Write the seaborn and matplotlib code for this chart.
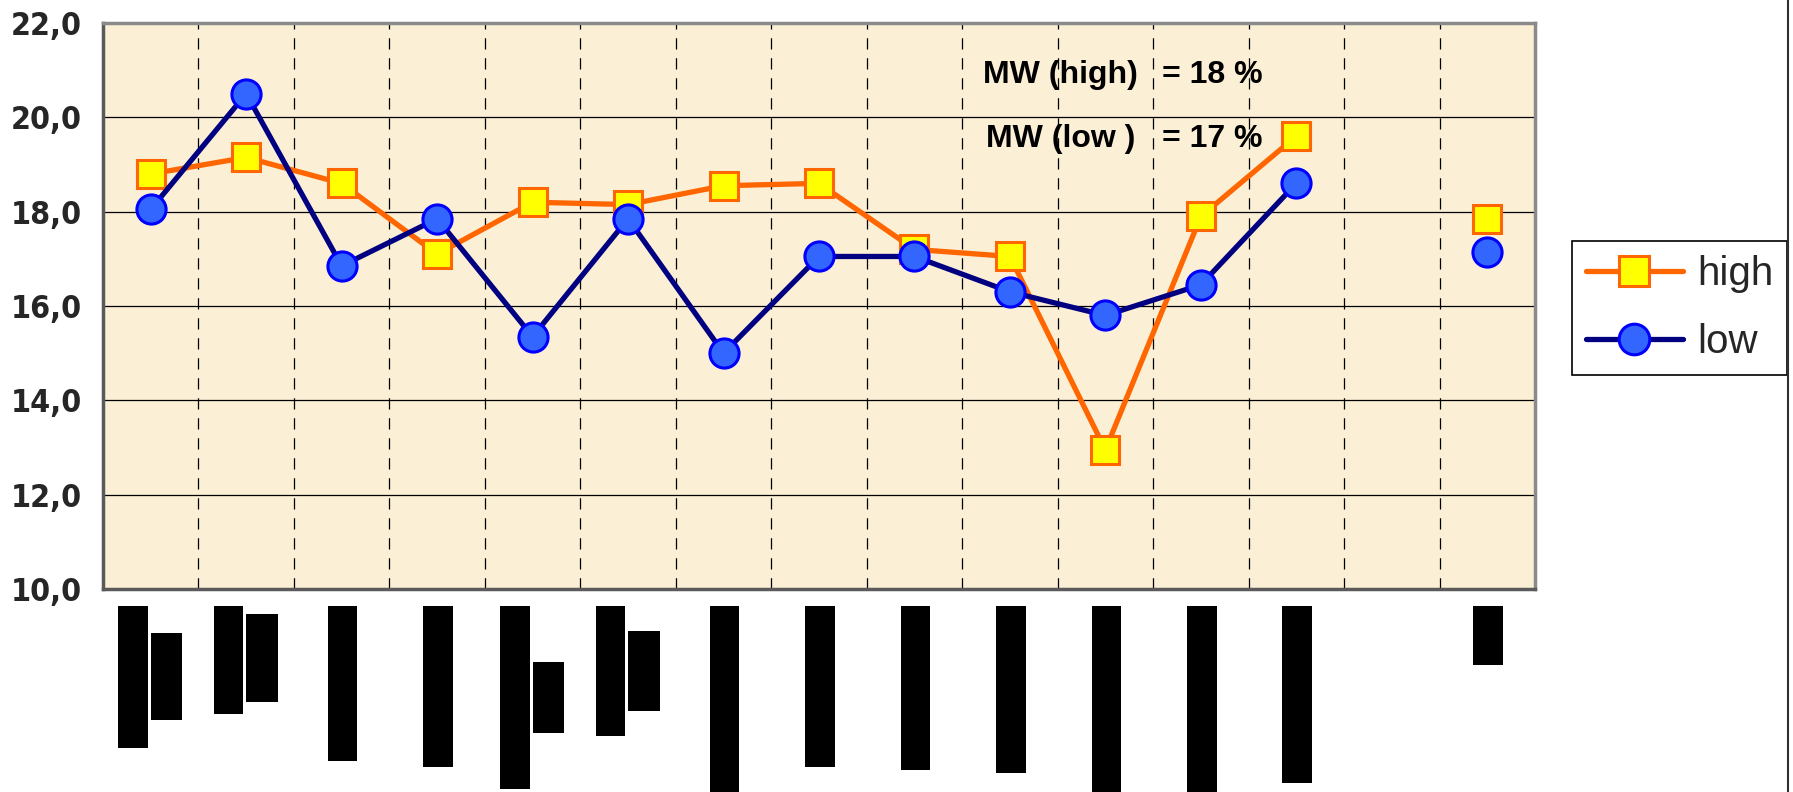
import numpy as np
import pandas as pd
import matplotlib
matplotlib.use("Agg")
import matplotlib.pyplot as plt
import matplotlib.transforms as mtransforms
from matplotlib import font_manager as fm
from matplotlib.patches import Rectangle
from matplotlib.lines import Line2D
import seaborn as sns

# ---- data -------------------------------------------------------------
positions = list(range(15))          # 15 categories, the 14th has no value
high = [18.8, 19.15, 18.6, 17.1, 18.2, 18.15, 18.55, 18.6, 17.2, 17.05,
        12.95, 17.9, 19.6, np.nan, 17.85]
low = [18.05, 20.5, 16.85, 17.85, 15.35, 17.85, 15.0, 17.05, 17.05, 16.3,
       15.8, 16.45, 18.6, np.nan, 17.15]
segment = [0] * 13 + [1] * 2         # line is interrupted by the missing value
y_ticks = [10, 12, 14, 16, 18, 20, 22]
mw_high = 18
mw_low = 17

# blacked-out category labels: (x0, x1, top_px, bottom_px) per category,
# x relative to the category centre, y in pixels from the top of the figure
label_blocks = [
    [(-0.34, -0.03, 606, 748), (0.0, 0.33, 633, 720)],
    [(-0.34, -0.03, 606, 714), (0.0, 0.33, 614, 702)],
    [(-0.145, 0.165, 606, 761)],
    [(-0.145, 0.165, 606, 767)],
    [(-0.34, -0.03, 606, 789), (0.0, 0.33, 662, 733)],
    [(-0.34, -0.03, 606, 736), (0.0, 0.33, 631, 711)],
    [(-0.145, 0.165, 606, 792)],
    [(-0.145, 0.165, 606, 767)],
    [(-0.145, 0.165, 606, 770)],
    [(-0.145, 0.165, 606, 773)],
    [(-0.145, 0.165, 606, 792)],
    [(-0.145, 0.165, 606, 792)],
    [(-0.145, 0.165, 606, 783)],
    [],
    [(-0.145, 0.165, 606, 665)],
]

df = pd.DataFrame({"pos": positions, "high": high, "low": low, "seg": segment})

# ---- style ------------------------------------------------------------
sns.set_style("white")
plt.rcParams["font.family"] = ["Liberation Sans", "DejaVu Sans"]


def narrow_bold_font():
    """Pick a narrow/condensed bold face for the value axis if one is installed."""
    cands = []
    for f in fm.fontManager.ttflist:
        w = f.weight if isinstance(f.weight, int) else (700 if "bold" in str(f.weight) else 400)
        narrow = ("Narrow" in f.name) or (f.stretch in ("condensed", "semi-condensed"))
        if narrow and w >= 600 and f.style == "normal":
            rank = 0 if "Liberation" in f.name else (1 if "Arial" in f.name else 2)
            cands.append((rank, f.fname))
    if cands:
        cands.sort()
        return fm.FontProperties(fname=cands[0][1], size=23)
    return fm.FontProperties(family="Liberation Sans", weight="bold", size=23)


tick_font = narrow_bold_font()

W, H = 1793, 792
fig = plt.figure(figsize=(W / 100, H / 100), dpi=100)
fig.patch.set_facecolor("white")
ax = fig.add_axes([103 / W, 1 - 589 / H, (1535 - 103) / W, (589 - 23) / H])
ax.set_facecolor("#FBEFD6")

# grid lines
for y in y_ticks[1:-1]:
    ax.axhline(y, color="black", lw=0.9, zorder=1)
for xb in np.arange(0.5, 14.5, 1.0):
    ax.axvline(xb, color="black", lw=0.9, ls=(0, (9, 7)), zorder=1)

# series
sns.lineplot(data=df, x="pos", y="high", units="seg", estimator=None,
             color="#FF6600", lw=3.8, marker="s", markersize=20,
             markerfacecolor="#FFFF00", markeredgecolor="#FF6600",
             markeredgewidth=2.2, label="high", ax=ax, zorder=3)
sns.lineplot(data=df, x="pos", y="low", units="seg", estimator=None,
             color="#000080", lw=3.8, marker="o", markersize=21,
             markerfacecolor="#3366FF", markeredgecolor="#0000FF",
             markeredgewidth=2.2, label="low", ax=ax, zorder=4)

ax.set_xlim(-0.5, 14.5)
ax.set_ylim(10, 22)
ax.set_xlabel("")
ax.set_ylabel("")

ax.set_yticks(y_ticks)
ax.set_yticklabels([f"{v:.1f}".replace(".", ",") for v in y_ticks])
for lbl in ax.get_yticklabels():
    lbl.set_fontproperties(tick_font)
ax.set_xticks(np.arange(-0.5, 15.0, 1.0))
ax.set_xticklabels([])
ax.tick_params(axis="y", direction="out", length=7, width=1.2, color="#404040", pad=8)
ax.tick_params(axis="x", direction="out", length=7, width=1.2, color="#404040")

for side in ["top", "right"]:
    ax.spines[side].set_color("#8a8a8a")
    ax.spines[side].set_linewidth(2.5)
for side in ["left", "bottom"]:
    ax.spines[side].set_color("#5a5a5a")
    ax.spines[side].set_linewidth(2.5)

# blacked-out category labels under the axis
trans = mtransforms.blended_transform_factory(ax.transData, fig.transFigure)
for cx, blocks in zip(positions, label_blocks):
    for x0, x1, top, bottom in blocks:
        ax.add_patch(Rectangle((cx + x0, 1 - bottom / H), x1 - x0, (bottom - top) / H,
                               transform=trans, facecolor="black", edgecolor="none",
                               clip_on=False, zorder=5))

# mean value annotations
txt_kw = dict(fontsize=23, fontweight="bold", va="baseline", ha="left", color="black")
fig.text(983 / W, 1 - 83 / H, "MW (high)", **txt_kw)
fig.text(1162 / W, 1 - 83 / H, f"= {mw_high} %", **txt_kw)
fig.text(986 / W, 1 - 147 / H, "MW (low )", **txt_kw)
fig.text(1162 / W, 1 - 147 / H, f"= {mw_low} %", **txt_kw)

# legend (one entry per series)
handles, labels = ax.get_legend_handles_labels()
uniq = {}
for h, l in zip(handles, labels):
    uniq.setdefault(l, h)
ax.legend(uniq.values(), uniq.keys(), loc="upper left",
          bbox_to_anchor=(1572 / W, 1 - 241 / H), bbox_transform=fig.transFigure,
          fontsize=29, frameon=True, fancybox=False, shadow=False,
          edgecolor="black", framealpha=1, borderpad=0.35,
          labelspacing=0.75, handlelength=2.4, handletextpad=0.35,
          borderaxespad=0, markerscale=1.05)
ax.get_legend().get_frame().set_linewidth(1.2)

# outer border on the right
fig.add_artist(Line2D([1788 / W, 1788 / W], [0, 1], transform=fig.transFigure,
                      color="#303030", lw=1.5))

fig.savefig("out.png", dpi=100, facecolor="white")
